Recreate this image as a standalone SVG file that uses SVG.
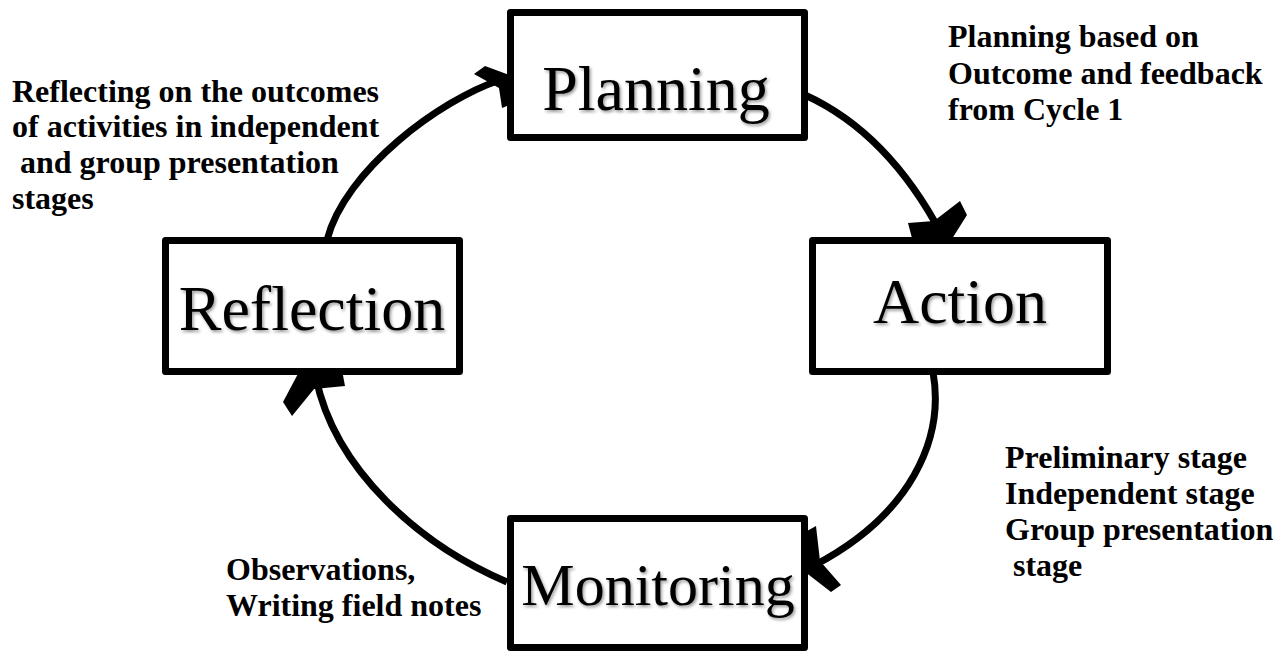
<svg xmlns="http://www.w3.org/2000/svg" width="1279" height="652" viewBox="0 0 1279 652">
  <defs>
    <filter id="shadow" x="-10%" y="-20%" width="120%" height="140%">
      <feDropShadow dx="1.5" dy="2" stdDeviation="1.5" flood-color="#000" flood-opacity="0.4"/>
    </filter>
    <style>
      .box { fill: #fff; stroke: #000; stroke-width: 7; stroke-linejoin: round; }
      .title { font-family: "Liberation Serif", "Times New Roman", serif; font-size: 64px; fill: #000; text-anchor: middle; filter: url(#shadow); }
      .lbl { font-family: "Liberation Serif", "Times New Roman", serif; font-size: 32px; font-weight: bold; fill: #000; white-space: pre; }
      .arc { fill: none; stroke: #000; stroke-width: 7; }
      .head { fill: #000; }
    </style>
  </defs>
  <rect width="1279" height="652" fill="#fff"/>

  <g id="connectors">
    <path class="arc" d="M327,240 C345,170 440,100 500,80"/>
    <path class="arc" d="M805,95 C860,120 905,165 942,235"/>
    <path class="arc" d="M933,372 C945,440 910,515 815,565"/>
    <path class="arc" d="M507,582 C420,545 335,470 316,378"/>
    <polygon class="head" points="474,74 485,66 512,76 512,104 502,108 499,88 492,84"/>
    <polygon class="head" points="908,223 934,221 960,201 967,215 950,242 913,242"/>
    <polygon class="head" points="807,531 816,526 820,561 841,585 831,592 800,568"/>
    <polygon class="head" points="292,416 283,402 300,370 342,370 345,386 314,389"/>
  </g>

  <g id="planning">
    <rect class="box" x="510.5" y="12.5" width="294" height="125"/>
    <text class="title" x="656" y="110">Planning</text>
  </g>
  <g id="action">
    <rect class="box" x="812.5" y="240.5" width="295" height="131"/>
    <text class="title" x="960" y="323">Action</text>
  </g>
  <g id="reflection">
    <rect class="box" x="165.5" y="240.5" width="294" height="131"/>
    <text class="title" x="312" y="330">Reflection</text>
  </g>
  <g id="monitoring">
    <rect class="box" x="510.5" y="518.5" width="294" height="129"/>
    <text class="title" x="658" y="605" style="font-size:60px">Monitoring</text>
  </g>

  <g id="labels">
    <text class="lbl" x="948" y="47">Planning based on</text>
    <text class="lbl" x="948" y="84">Outcome and feedback</text>
    <text class="lbl" x="948" y="120">from Cycle 1</text>

    <text class="lbl" x="12" y="102">Reflecting on the outcomes</text>
    <text class="lbl" x="12" y="137">of activities in independent</text>
    <text class="lbl" x="12" y="173"> and group presentation</text>
    <text class="lbl" x="12" y="209">stages</text>

    <text class="lbl" x="1005" y="468">Preliminary stage</text>
    <text class="lbl" x="1005" y="504">Independent stage</text>
    <text class="lbl" x="1005" y="540">Group presentation</text>
    <text class="lbl" x="1005" y="576"> stage</text>

    <text class="lbl" x="226" y="580">Observations,</text>
    <text class="lbl" x="226" y="616">Writing field notes</text>
  </g>
</svg>
